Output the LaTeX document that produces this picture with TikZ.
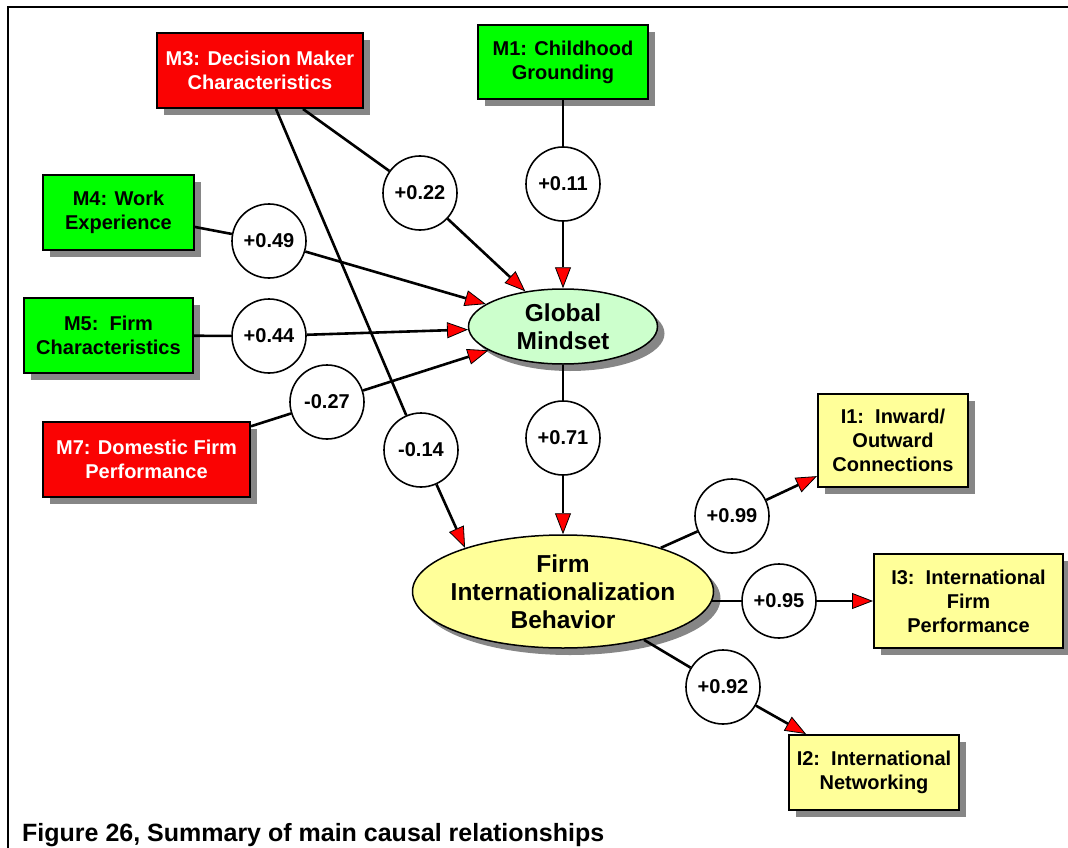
\documentclass[tikz,border=0pt]{standalone}
\usepackage{fontspec}
\setmainfont{Liberation Sans}
\usetikzlibrary{arrows.meta,shapes.geometric,shadows}
\pgfdeclarelayer{fg}
\pgfsetlayers{main,fg}
\definecolor{boxred}{RGB}{250,3,3}
\definecolor{boxgreen}{RGB}{0,255,0}
\definecolor{mintfill}{RGB}{204,255,204}
\definecolor{paleyellow}{RGB}{255,255,153}
\definecolor{shadowgrey}{RGB}{134,134,134}
\begin{document}
\begin{tikzpicture}[x=1pt,y=-1pt,
  txt/.style={font=\bfseries\fontsize{20}{24}\selectfont, align=center},
  shadowed/.style={drop shadow={shadow xshift=7pt,shadow yshift=-7pt,fill=shadowgrey,opacity=1}},
  boxbase/.style={txt, shadowed, rectangle, draw=black, line width=2pt, inner sep=0pt},
  redbox/.style={boxbase, fill=boxred, text=white},
  greenbox/.style={boxbase, fill=boxgreen},
  yellowbox/.style={boxbase, fill=paleyellow},
  oval/.style={ellipse, draw=black, line width=1.5pt, shadowed, inner sep=0pt},
  ovaltext/.style={font=\bfseries\fontsize{24.5}{28}\selectfont, align=center},
  coef/.style={txt, circle, draw=black, fill=white, line width=1.6pt, minimum size=74pt, inner sep=0pt},
  link/.style={line width=2.6pt, black},
  arr/.style={link, -{Triangle[length=21pt,width=16pt,fill=red,line width'=0.8pt]}},
]
\useasboundingbox (0,0) rectangle (1068,848);

% frame
\draw[line width=2pt] (8,848) -- (8,7.5) -- (1068,7.5);

% antecedent boxes
\node[redbox, minimum width=206pt, minimum height=75pt] (m3) at (260,70.5) {M3: Decision Maker\\Characteristics};
\node[greenbox, minimum width=170pt, minimum height=74pt] (m1) at (563,62) {M1: Childhood\\Grounding};
\node[greenbox, minimum width=151pt, minimum height=75pt] (m4) at (118.5,212.5) {M4: Work\\Experience};
\node[greenbox, minimum width=169pt, minimum height=75pt] (m5) at (108.5,335.5) {M5:\ \ Firm\\Characteristics};
\node[redbox, minimum width=207pt, minimum height=75pt] (m7) at (146.5,459.5) {M7: Domestic Firm\\Performance};

% outcome boxes
\node[yellowbox, minimum width=150pt, minimum height=93pt] (i1) at (893,440.5) {I1:\ \ Inward/\\Outward\\Connections};
\node[yellowbox, minimum width=189pt, minimum height=94pt] (i3) at (968.5,601) {I3:\ \ International\\Firm\\Performance};
\node[yellowbox, minimum width=170pt, minimum height=75pt] (i2) at (874,772.5) {I2:\ \ International\\Networking};

% latent constructs
\node[oval, fill=mintfill, minimum width=189pt, minimum height=75pt] (gm) at (563,326.5) {};
\node[ovaltext] (gmtext) at (gm) {Global\\Mindset};
\node[oval, fill=paleyellow, minimum width=301pt, minimum height=113pt] (fib) at (563,591.5) {};
\node[ovaltext] (fibtext) at (fib) {Firm\\Internationalization\\Behavior};

% path coefficients
\begin{pgfonlayer}{fg}
\node[coef] (c22) at (420,193) {+0.22};
\node[coef] (c11) at (563,184) {+0.11};
\node[coef] (c49) at (269,241) {+0.49};
\node[coef] (c44) at (269,336) {+0.44};
\node[coef] (c27) at (327,402) {-0.27};
\node[coef] (c14) at (421,450) {-0.14};
\node[coef] (c71) at (563,438) {+0.71};
\node[coef] (c99) at (732,516) {+0.99};
\node[coef] (c95) at (779,601) {+0.95};
\node[coef] (c92) at (723,687) {+0.92};
\end{pgfonlayer}

% causal paths
\draw[link] ([xshift=43pt]m3.south) -- (c22);
\draw[arr] (c22) -- (gm);
\draw[link] (m1) -- (c11);
\draw[arr] (c11) -- (gm);
\draw[link] (m4) -- (c49);
\draw[arr] (c49) -- (gm);
\draw[link] (m5) -- (c44);
\draw[arr] (c44) -- (gm);
\draw[link] (m7) -- (c27);
\draw[arr] (c27) -- (gm);
\draw[link] ([xshift=16pt]m3.south) -- (c14);
\draw[arr] (c14) -- (fib.156);
\draw[link] (gm) -- (c71);
\draw[arr] (c71) -- (fib);
\draw[link] (fib) -- (c99);
\draw[arr] (c99) -- (i1);
\draw[link] ([xshift=-2pt]c95 -| fib.east) -- (c95);
\draw[arr] (c95) -- (i3);
\draw[link] (fib) -- (c92);
\draw[arr] (c92) -- (i2);

% caption
\node[anchor=base west, font=\bfseries\fontsize{25}{30}\selectfont, inner sep=0pt] (cap) at (22,841) {Figure 26, Summary of main causal relationships};
\end{tikzpicture}
\end{document}
